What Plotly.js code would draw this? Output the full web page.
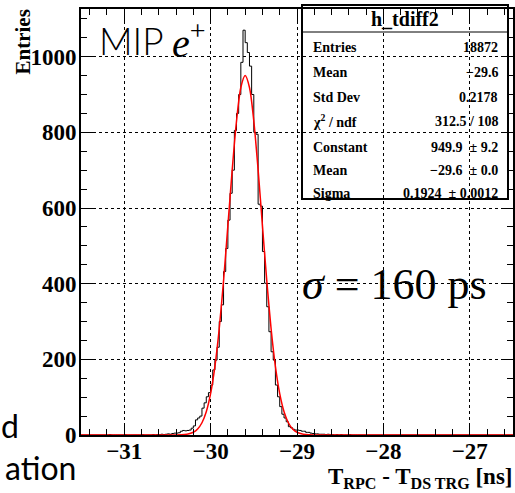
<!DOCTYPE html>
<html>
<head>
<meta charset="utf-8">
<script src="https://cdn.plot.ly/plotly-3.0.1.min.js"></script>
<style>html,body{margin:0;padding:0;background:#fff;}#chart{width:515px;height:493px;}</style>
</head>
<body>
<div id="chart"></div>
<script>
// ---- data ----
const binStart = -31.2;
const binWidth = 0.025;
const counts = [
  0,1,0,0,0,0,0,0,1,0,0,0,0,0,0,0,1,0,0,0,
  0,1,0,1,
  1,2,1,2,3,2,4,5,5,6,10,12,11,12,13,18,24,40,45,50,
  71,85,101,112,132,172,198,232,300,344,432,493,568,639,700,805,850,900,985,1070,
  1037,1011,975,900,800,795,610,605,485,401,339,273,220,198,132,101,75,55,45,35,
  22,19,15,13,13,12,10,10,7,7,5,4,3,3,2,2,2,1,2,1,
  1,0,1,0,1,0,0,0,1,0,0,0
];
const fitX = [-31.5,-31.0,-30.7,-30.5,-30.4,-30.3,-30.25,-30.2,-30.15,-30.1,-30.05,-30.0,-29.95,-29.9,-29.85,-29.8,-29.75,-29.7,-29.65,-29.6,
  -29.55,-29.5,-29.45,-29.4,-29.35,-29.3,-29.25,-29.2,-29.15,-29.1,-29.05,-29.0,-28.95,-28.9,-28.8,-28.7,-28.5,-28.0,-27.5,-26.5];
const fitY = [0,0,0,0,0.2,1.3,3.2,7.3,16,32.4,61.6,109.4,181.5,281.6,408.4,553.4,700.9,829.9,918.4,949.9,
  918.4,829.9,700.9,553.4,408.4,281.6,181.5,109.4,61.6,32.4,16,7.3,3.2,1.3,0.2,0,0,0,0,0];
const xRange = [-31.5, -26.5];
const yRange = [0, 1126];
const statsLabels = ['Entries','Mean','Std Dev','\u03c7<sup>2</sup> / ndf','Constant','Mean','Sigma'];
const statsValues = ['18872','\u221229.6','0.2178','312.5 / 108','949.9  \u00b1 9.2','\u221229.6  \u00b1 0.0','0.1924  \u00b1 0.0012'];
const histName = 'h_tdiff2';

// ---- build step outline ----
const hx = [xRange[0], binStart];
const hy = [0, 0];
for (let i = 0; i < counts.length; i++) {
  hx.push(binStart + i * binWidth);
  hy.push(counts[i]);
}
const endEdge = binStart + counts.length * binWidth;
hx.push(endEdge); hy.push(counts[counts.length - 1]);
hx.push(endEdge); hy.push(0);
hx.push(xRange[1]); hy.push(0);

const serif = 'Liberation Serif';
const sans = 'Lato';
const W = 515, H = 493;
const M = {l: 81, r: 2, t: 9, b: 58};
const pw = W - M.l - M.r, ph = H - M.t - M.b;
const px = q => (q - M.l) / pw;
const py = p => (H - M.b - p) / ph;

const traces = [
  {x: hx, y: hy, type: 'scatter', mode: 'lines', line: {shape: 'hv', color: '#000', width: 1}, hoverinfo: 'skip'},
  {x: fitX, y: fitY, type: 'scatter', mode: 'lines', line: {shape: 'spline', smoothing: 0.8, color: '#ff0000', width: 1.5}, hoverinfo: 'skip'}
];

const annotations = [];
annotations.push({xref: 'paper', yref: 'paper', x: px(22), y: py(8), xanchor: 'center', yanchor: 'top',
  text: '<b>Entries</b>', textangle: -90, showarrow: false, font: {family: serif, size: 21, color: '#000'}});
annotations.push({xref: 'paper', yref: 'paper', x: px(515), y: py(462), xanchor: 'right', yanchor: 'top',
  text: '<b>T<sub>RPC</sub> - T<sub>DS TRG</sub> [ns]</b>', showarrow: false, font: {family: serif, size: 23, color: '#000'}});
const rowY = [48, 72, 97, 121, 147, 170, 193];
annotations.push({xref: 'paper', yref: 'paper', x: px(405), y: py(19), xanchor: 'center', yanchor: 'middle',
  text: '<b>' + histName + '</b>', showarrow: false, font: {family: serif, size: 20, color: '#000'}});
for (let i = 0; i < statsLabels.length; i++) {
  annotations.push({xref: 'paper', yref: 'paper', x: px(311), y: py(rowY[i]), xanchor: 'left', yanchor: 'middle',
    text: '<b>' + statsLabels[i] + '</b>', showarrow: false, font: {family: serif, size: 14, color: '#000'}});
  annotations.push({xref: 'paper', yref: 'paper', x: px(500), y: py(rowY[i]), xanchor: 'right', yanchor: 'middle',
    text: '<b>' + statsValues[i] + '</b>', showarrow: false, font: {family: serif, size: 14, color: '#000'}});
}
annotations.push({xref: 'paper', yref: 'paper', x: px(97), y: py(40), xanchor: 'left', yanchor: 'middle',
  text: 'MIP', showarrow: false, font: {family: sans, size: 37, weight: 300, color: '#000'}});
annotations.push({xref: 'paper', yref: 'paper', x: px(170), y: py(40), xanchor: 'left', yanchor: 'middle',
  text: '<i>e</i><sup>+</sup>', showarrow: false, font: {family: serif, size: 40, color: '#000'}});
annotations.push({xref: 'paper', yref: 'paper', x: px(300), y: py(284), xanchor: 'left', yanchor: 'middle',
  text: '<i>\u03c3</i> = 160 ps', showarrow: false, font: {family: serif, size: 44, color: '#000'}});
annotations.push({xref: 'paper', yref: 'paper', x: px(21), y: py(425), xanchor: 'right', yanchor: 'middle',
  text: 'd', showarrow: false, font: {family: sans, size: 32, color: '#000'}});
annotations.push({xref: 'paper', yref: 'paper', x: px(78), y: py(468), xanchor: 'right', yanchor: 'middle',
  text: 'ation', showarrow: false, font: {family: sans, size: 32, color: '#000'}});

const shapes = [
  {type: 'rect', xref: 'paper', yref: 'paper', x0: px(302), x1: px(508), y0: py(5), y1: py(199), line: {color: '#000', width: 2}, fillcolor: 'rgba(0,0,0,0)'},
  {type: 'line', xref: 'paper', yref: 'paper', x0: px(302), x1: px(508), y0: py(32), y1: py(32), line: {color: '#000', width: 1}}
];

const axisCommon = {
  showline: true, linecolor: '#000', linewidth: 2, mirror: 'ticks',
  ticks: 'inside', ticklen: 12, tickwidth: 1, tickcolor: '#000',
  showgrid: true, gridcolor: '#000', griddash: 'dot', gridwidth: 1,
  zeroline: false,
  tickfont: {family: serif, size: 23, weight: 'bold', color: '#000'}
};

const layout = {
  width: W, height: H,
  margin: M,
  paper_bgcolor: '#fff', plot_bgcolor: '#fff',
  showlegend: false,
  xaxis: Object.assign({}, axisCommon, {range: xRange, dtick: 1, tick0: -31, ticklabelstandoff: -6,
    minor: {dtick: 0.2, tick0: -31, ticks: 'inside', ticklen: 6, tickcolor: '#000', showgrid: false}}),
  yaxis: Object.assign({}, axisCommon, {range: yRange, dtick: 200, tick0: 0, ticklabelstandoff: -2,
    minor: {dtick: 50, tick0: 0, ticks: 'inside', ticklen: 6, tickcolor: '#000', showgrid: false}}),
  annotations: annotations,
  shapes: shapes
};

Plotly.newPlot('chart', traces, layout, {staticPlot: true, displayModeBar: false});
</script>
</body>
</html>
